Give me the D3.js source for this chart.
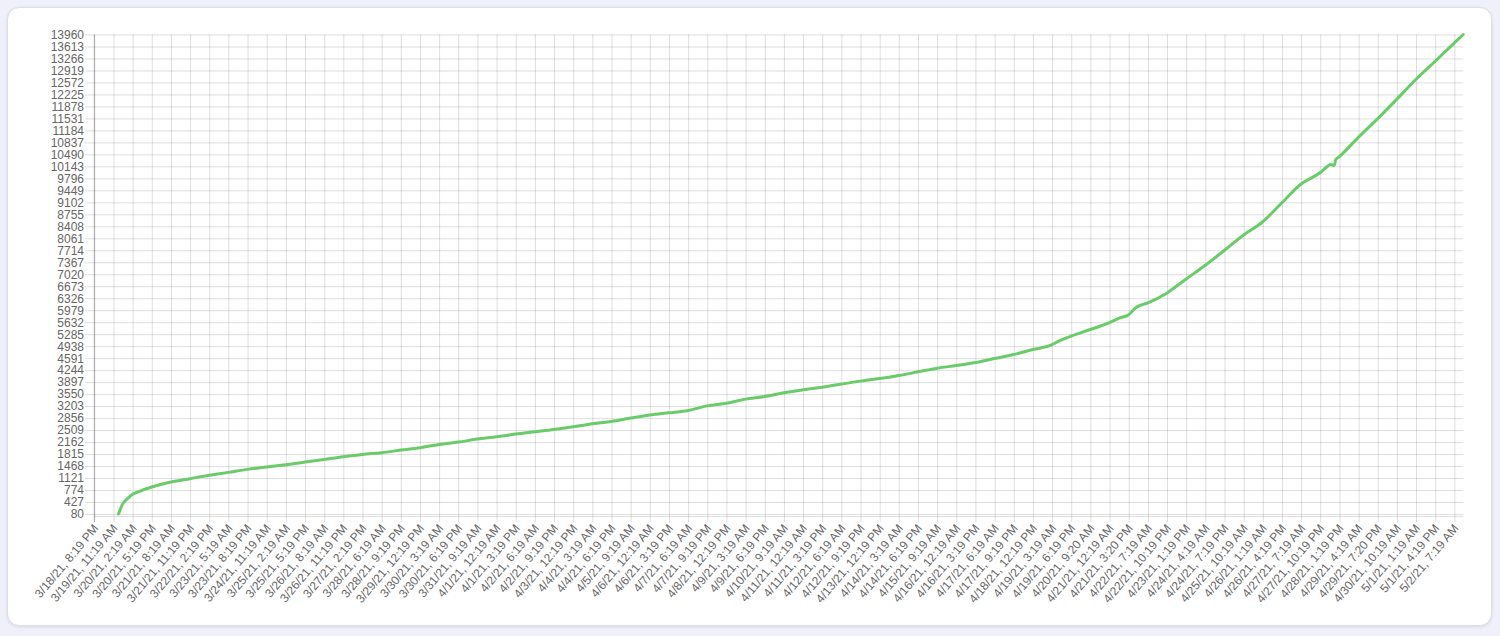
<!DOCTYPE html>
<html>
<head>
<meta charset="utf-8">
<script src="https://cdn.jsdelivr.net/npm/d3@7/dist/d3.min.js"></script>
<style>
  html, body { margin: 0; padding: 0; width: 1500px; height: 636px; background: #f0f0fa; overflow: hidden; }
  .card { position: absolute; left: 7px; top: 7px; width: 1483px; height: 617px; background: #fff;
          border: 1px solid #dcdcea; border-radius: 12px; box-shadow: 0 1px 3px rgba(60,60,120,0.12); }
  svg { position: absolute; left: 0; top: 0; }
  text { font-family: "Liberation Sans", Arial, Helvetica, sans-serif; font-size: 12px; fill: #666; }
</style>
</head>
<body>
<div class="card"></div>
<svg id="chart" width="1500" height="636"></svg>
<script>
// ---- data ----
const tickLabels = [
"3/18/21, 8:19 PM","3/19/21, 11:19 AM","3/20/21, 2:19 AM","3/20/21, 5:19 PM","3/21/21, 8:19 AM","3/21/21, 11:19 PM",
"3/22/21, 2:19 PM","3/23/21, 5:19 AM","3/23/21, 8:19 PM","3/24/21, 11:19 AM","3/25/21, 2:19 AM","3/25/21, 5:19 PM",
"3/26/21, 8:19 AM","3/26/21, 11:19 PM","3/27/21, 2:19 PM","3/28/21, 6:19 AM","3/28/21, 9:19 PM","3/29/21, 12:19 PM",
"3/30/21, 3:19 AM","3/30/21, 6:19 PM","3/31/21, 9:19 AM","4/1/21, 12:19 AM","4/1/21, 3:19 PM","4/2/21, 6:19 AM",
"4/2/21, 9:19 PM","4/3/21, 12:19 PM","4/4/21, 3:19 AM","4/4/21, 6:19 PM","4/5/21, 9:19 AM","4/6/21, 12:19 AM",
"4/6/21, 3:19 PM","4/7/21, 6:19 AM","4/7/21, 9:19 PM","4/8/21, 12:19 PM","4/9/21, 3:19 AM","4/9/21, 6:19 PM",
"4/10/21, 9:19 AM","4/11/21, 12:19 AM","4/11/21, 3:19 PM","4/12/21, 6:19 AM","4/12/21, 9:19 PM","4/13/21, 12:19 PM",
"4/14/21, 3:19 AM","4/14/21, 6:19 PM","4/15/21, 9:19 AM","4/16/21, 12:19 AM","4/16/21, 3:19 PM","4/17/21, 6:19 AM",
"4/17/21, 9:19 PM","4/18/21, 12:19 PM","4/19/21, 3:19 AM","4/19/21, 6:19 PM","4/20/21, 9:20 AM","4/21/21, 12:19 AM",
"4/21/21, 3:20 PM","4/22/21, 7:19 AM","4/22/21, 10:19 PM","4/23/21, 1:19 PM","4/24/21, 4:19 AM","4/24/21, 7:19 PM",
"4/25/21, 10:19 AM","4/26/21, 1:19 AM","4/26/21, 4:19 PM","4/27/21, 7:19 AM","4/27/21, 10:19 PM","4/28/21, 1:19 PM",
"4/29/21, 4:19 AM","4/29/21, 7:20 PM","4/30/21, 10:19 AM","5/1/21, 1:19 AM","5/1/21, 4:19 PM","5/2/21, 7:19 AM"];

const labelEvery = 15;      // samples between labelled categories
const sampleCount = 1073;   // total categories on the axis

const yTickValues = [80,427,774,1121,1468,1815,2162,2509,2856,3203,3550,3897,4244,4591,4938,5285,5632,5979,6326,
  6673,7020,7367,7714,8061,8408,8755,9102,9449,9796,10143,10490,10837,11184,11531,11878,12225,12572,12919,13266,13613,13960];

// sample index along the category axis, and value read at that sample
const sampleIdx = [19,22,26,30,36,45,60,75,90,105,120,135,150,165,180,195,210,225,240,255,270,285,300,315,330,345,
  360,375,390,405,420,435,450,465,480,495,510,525,540,555,570,585,600,615,630,645,660,675,690,705,720,735,750,756,765,
  780,795,803,810,812,816,825,840,855,870,885,900,915,930,945,960,965,968,971,972,975,990,1005,1020,1035,1050,1065,1072];
const sampleVal = [80,360,525,650,745,860,1005,1103,1200,1285,1372,1440,1508,1583,1660,1738,1805,1855,1930,2000,2093,
  2162,2249,2315,2393,2460,2527,2605,2692,2759,2856,2943,3009,3076,3210,3287,3405,3481,3588,3674,3752,3839,3926,4001,
  4088,4195,4302,4377,4464,4580,4695,4840,4980,5100,5231,5420,5620,5756,5850,5920,6066,6190,6480,6884,7280,7714,8157,
  8540,9090,9632,9964,10123,10195,10170,10330,10426,10990,11524,12088,12666,13186,13720,13960];

// ---- layout ----
const L = 94.3, R = 1463.3, T = 34.5, B = 514;
const svg = d3.select("#chart");

const x = d3.scaleLinear().domain([0, sampleCount - 1]).range([L, R]);
const y = d3.scaleLinear().domain([yTickValues[0], yTickValues[yTickValues.length - 1]]).range([B, T]);
const tickIdx = tickLabels.map((_, i) => i * labelEvery);

const gridColor = "rgba(0,0,0,0.13)";

// horizontal grid (extends left as tick marks)
const yGrid = svg.append("g").attr("transform", `translate(${L - 9.3},0)`)
  .call(d3.axisLeft(y).tickValues(yTickValues).tickSize(-(R - L + 9.3)).tickFormat(""));
yGrid.select(".domain").remove();
yGrid.selectAll("line").attr("stroke", gridColor);

// vertical grid (extends below as tick marks)
const xGrid = svg.append("g").attr("transform", `translate(0,${B + 8})`)
  .call(d3.axisBottom(x).tickValues(tickIdx).tickSize(-(B + 8 - T)).tickFormat(""));
xGrid.select(".domain").remove();
xGrid.selectAll("line").attr("stroke", gridColor);

// axis border lines
svg.append("line").attr("x1", L).attr("x2", R).attr("y1", B + 2.5).attr("y2", B + 2.5)
  .attr("stroke", gridColor);
svg.append("line").attr("x1", L).attr("x2", L).attr("y1", T).attr("y2", B + 8)
  .attr("stroke", "rgba(0,0,0,0.3)");

// y labels
const yAxis = svg.append("g").attr("transform", `translate(${L},0)`)
  .call(d3.axisLeft(y).tickValues(yTickValues).tickSize(9.3).tickPadding(1).tickFormat(d3.format("d")));
yAxis.select(".domain").remove();
yAxis.selectAll("line").remove();
yAxis.selectAll("text").style("font-size", "12px").attr("fill", "#666");

// x labels
const xAxis = svg.append("g").attr("transform", `translate(0,${B})`)
  .call(d3.axisBottom(x).tickValues(tickIdx).tickFormat((d, i) => tickLabels[i]).tickSize(0));
xAxis.select(".domain").remove();
xAxis.selectAll("line").remove();
xAxis.selectAll("text")
  .attr("x", 0).attr("y", 0).attr("dy", "0.35em")
  .attr("text-anchor", "end")
  .attr("transform", "translate(1,12) rotate(-50)")
  .style("font-size", "12px").attr("fill", "#666");

// line
const pts = sampleIdx.map((s, i) => ({ s, v: sampleVal[i] }));
const line = d3.line().x(d => x(d.s)).y(d => y(d.v)).curve(d3.curveMonotoneX);
svg.append("path").datum(pts)
  .attr("d", line)
  .attr("fill", "none")
  .attr("stroke", "#6acb6a")
  .attr("stroke-width", 3)
  .attr("stroke-linejoin", "round")
  .attr("stroke-linecap", "round");
</script>
</body>
</html>
